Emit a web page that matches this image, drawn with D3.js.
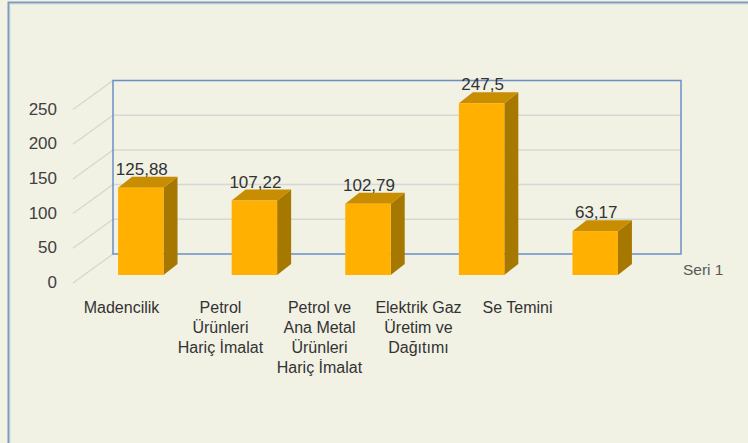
<!DOCTYPE html>
<html lang="tr">
<head>
<meta charset="UTF-8" />
<title>Seri 1</title>
<script src="https://cdn.jsdelivr.net/npm/d3@7"></script>
<style>
  html, body { margin: 0; padding: 0; background: #f1f1e4; }
  svg { display: block; font-family: "Liberation Sans", Arial, sans-serif; }
</style>
</head>
<body>
<div id="chart"></div>
<script>
// data
const categories = ["Madencilik", "Petrol Ürünleri Hariç İmalat", "Petrol ve Ana Metal Ürünleri Hariç İmalat", "Elektrik Gaz Üretim ve Dağıtımı", "Se Temini"];
const categoryLines = [
  ["Madencilik"],
  ["Petrol", "Ürünleri", "Hariç İmalat"],
  ["Petrol ve", "Ana Metal", "Ürünleri", "Hariç İmalat"],
  ["Elektrik Gaz", "Üretim ve", "Dağıtımı"],
  ["Se Temini"]
];
const values = [125.88, 107.22, 102.79, 247.5, 63.17];
const valueLabels = ["125,88", "107,22", "102,79", "247,5", "63,17"];
const yTicks = [0, 50, 100, 150, 200, 250];
const seriesName = "Seri 1";

const W = 748, H = 443;

const svg = d3.select("#chart").append("svg")
  .attr("width", W)
  .attr("height", H);

svg.append("rect").attr("width", W).attr("height", H).attr("fill", "#f1f1e4");

// outer frame
svg.append("rect")
  .attr("x", 8.5).attr("y", 2.5)
  .attr("width", W + 20).attr("height", H + 20)
  .attr("fill", "none")
  .attr("stroke", "#7f9bbd")
  .attr("stroke-width", 2);
svg.append("rect")
  .attr("x", 10.5).attr("y", 4.5)
  .attr("width", W + 20).attr("height", H + 20)
  .attr("fill", "none")
  .attr("stroke", "#dfe9e6")
  .attr("stroke-width", 1);

// front plane scales + depth vector
const y = d3.scaleLinear().domain([0, 250]).range([283, 109.5]);
const x = d3.scaleBand().domain(categories).range([73, 641])
  .paddingInner(0.6).paddingOuter(0.3);
const xLabel = d3.scaleBand().domain(categories).range([72, 567]);
const depth = { dx: 40, dy: -29 };
const barFront = { dx: 11, dy: -8 };
const barDepth = { dx: 14, dy: -11 };

const wallLeft = 73 + depth.dx;
const wallRight = 641 + depth.dx;

// diagonal floor/side lines
svg.append("g").selectAll("line")
  .data(yTicks)
  .join("line")
  .attr("x1", 73).attr("y1", d => y(d))
  .attr("x2", wallLeft).attr("y2", d => y(d) + depth.dy)
  .attr("stroke", "#d6d6cf")
  .attr("stroke-width", 1.2);

// back wall gridlines
svg.append("g").selectAll("line")
  .data(yTicks.filter(d => d > 0 && d < 250))
  .join("line")
  .attr("x1", wallLeft).attr("x2", wallRight)
  .attr("y1", d => y(d) + depth.dy).attr("y2", d => y(d) + depth.dy)
  .attr("stroke", "#d6d8d4")
  .attr("stroke-width", 1.5);

// back wall border
svg.append("rect")
  .attr("x", wallLeft).attr("y", y(250) + depth.dy)
  .attr("width", wallRight - wallLeft)
  .attr("height", y(0) - y(250))
  .attr("fill", "none")
  .attr("stroke", "#6a8fc4")
  .attr("stroke-width", 1.5);

// y axis labels
svg.append("g").selectAll("text")
  .data(yTicks)
  .join("text")
  .attr("x", 57)
  .attr("y", d => y(d) + 5)
  .attr("text-anchor", "end")
  .attr("font-size", 17)
  .attr("fill", "#404040")
  .text(d => d);

// 3d bars
const bars = svg.append("g").selectAll("g")
  .data(values.map((v, i) => ({ v, cat: categories[i], label: valueLabels[i] })))
  .join("g");

bars.each(function (d) {
  const g = d3.select(this);
  const x0 = x(d.cat) + barFront.dx;
  const x1 = x0 + x.bandwidth();
  const yb = y(0) + barFront.dy;
  const yt = y(d.v) + barFront.dy;
  const ddx = barDepth.dx, ddy = barDepth.dy;
  // side
  g.append("path")
    .attr("d", `M${x1},${yt}L${x1 + ddx},${yt + ddy}L${x1 + ddx},${yb + ddy}L${x1},${yb}Z`)
    .attr("fill", "#a77800");
  // top
  g.append("path")
    .attr("d", `M${x0},${yt}L${x0 + ddx},${yt + ddy}L${x1 + ddx},${yt + ddy}L${x1},${yt}Z`)
    .attr("fill", "#c88d00");
  // front
  g.append("rect")
    .attr("x", x0).attr("y", yt)
    .attr("width", x1 - x0).attr("height", yb - yt)
    .attr("fill", "#ffb000");
  // value label
  g.append("text")
    .attr("x", (x0 + x1) / 2 + 1)
    .attr("y", yt + ddy - 2)
    .attr("text-anchor", "middle")
    .attr("font-size", 17)
    .attr("fill", "#333333")
    .text(d.label);
});

// category labels
const catG = svg.append("g").selectAll("text")
  .data(categories)
  .join("text")
  .attr("text-anchor", "middle")
  .attr("font-size", 16)
  .attr("fill", "#333333");

catG.each(function (d, i) {
  const t = d3.select(this);
  categoryLines[i].forEach((line, j) => {
    t.append("tspan")
      .attr("x", xLabel(d) + xLabel.bandwidth() / 2)
      .attr("y", 313 + j * 20)
      .text(line);
  });
});

// series label
svg.append("text")
  .attr("x", 683)
  .attr("y", 275)
  .attr("font-size", 15.5)
  .attr("fill", "#595959")
  .text(seriesName);
</script>
</body>
</html>
